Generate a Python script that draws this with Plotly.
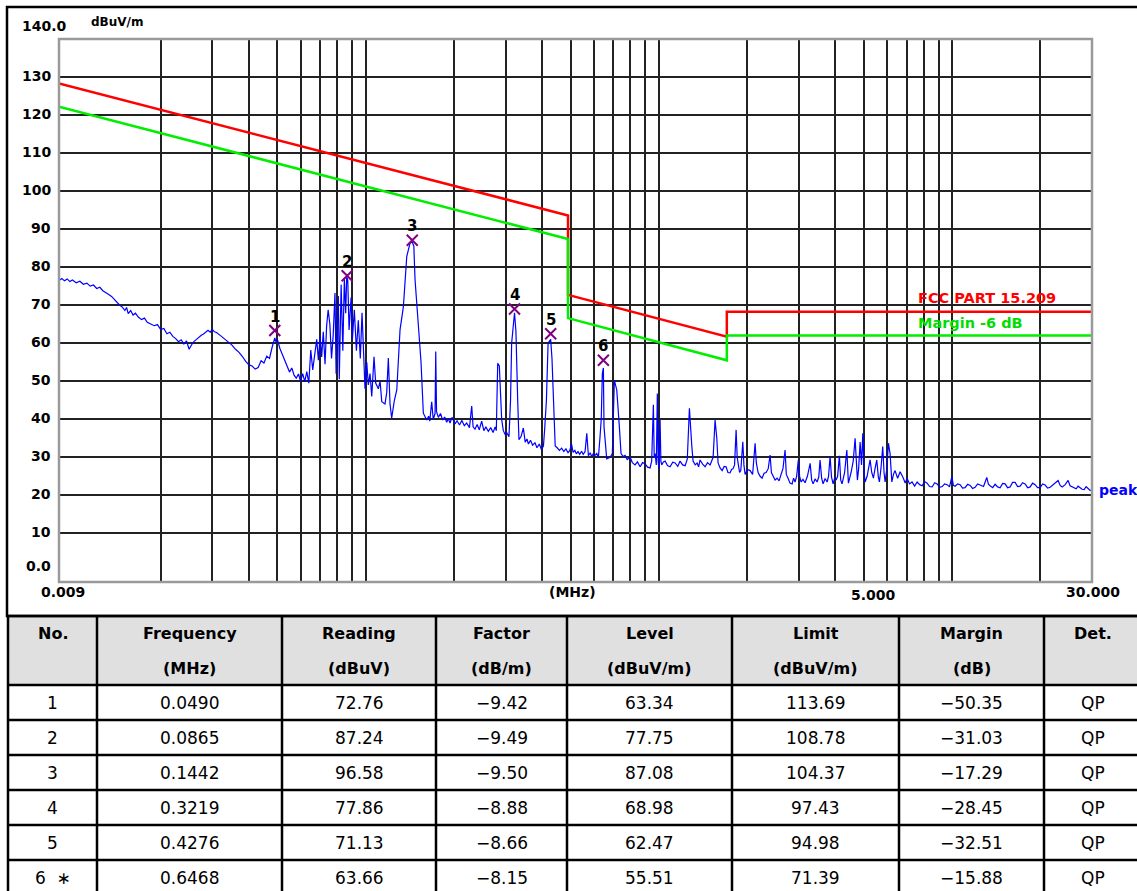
import numpy as np
import plotly.graph_objects as go

# ---------------- data ----------------
peak_freq_mhz = [
    0.0090, 0.0092, 0.0094, 0.0096, 0.0098, 0.0100, 0.0103, 0.0106, 0.0109, 0.0112,
    0.0115, 0.0118, 0.0121, 0.0124, 0.0127, 0.0130, 0.0133, 0.0136, 0.0139, 0.0142,
    0.0145, 0.0148, 0.0151, 0.0153, 0.0155, 0.0158, 0.0161, 0.0164, 0.0168, 0.0172,
    0.0176, 0.0180, 0.0185, 0.0190, 0.0195, 0.0200, 0.0205, 0.0210, 0.0215, 0.0220,
    0.0225, 0.0230, 0.0235, 0.0240, 0.0245, 0.0250, 0.0255, 0.0260, 0.0265, 0.0270,
    0.0275, 0.0280, 0.0285, 0.0290, 0.0295, 0.0300, 0.0305, 0.0310, 0.0320, 0.0330,
    0.0340, 0.0350, 0.0360, 0.0370, 0.0380, 0.0390, 0.0400, 0.0410, 0.0420, 0.0430,
    0.0440, 0.0450, 0.0460, 0.0470, 0.0480, 0.0490, 0.0495, 0.0500, 0.0510, 0.0520,
    0.0530, 0.0540, 0.0550, 0.0560, 0.0570, 0.0580, 0.0590, 0.0600, 0.0610, 0.0620,
    0.0630, 0.0640, 0.0650, 0.0660, 0.0672, 0.0681, 0.0690, 0.0699, 0.0708, 0.0717,
    0.0727, 0.0736, 0.0745, 0.0755, 0.0765, 0.0775, 0.0786, 0.0793, 0.0800, 0.0807,
    0.0813, 0.0825, 0.0836, 0.0846, 0.0855, 0.0862, 0.0869, 0.0878, 0.0892, 0.0901,
    0.0915, 0.0930, 0.0944, 0.0959, 0.0972, 0.0985, 0.0995, 0.1009, 0.1021, 0.1035,
    0.1049, 0.1068, 0.1082, 0.1105, 0.1120, 0.1135, 0.1164, 0.1180, 0.1195, 0.1211,
    0.1227, 0.1253, 0.1277, 0.1310, 0.1345, 0.1381, 0.1417, 0.1442, 0.1460, 0.1474,
    0.1512, 0.1545, 0.1573, 0.1615, 0.1640, 0.1655, 0.1680, 0.1700, 0.1725, 0.1734,
    0.1745, 0.1770, 0.1800, 0.1830, 0.1860, 0.1890, 0.1914, 0.1940, 0.1970, 0.2018,
    0.2050, 0.2090, 0.2130, 0.2170, 0.2210, 0.2260, 0.2300, 0.2325, 0.2360, 0.2400,
    0.2440, 0.2487, 0.2530, 0.2570, 0.2621, 0.2670, 0.2720, 0.2764, 0.2790, 0.2821,
    0.2857, 0.2880, 0.2910, 0.2948, 0.2990, 0.3027, 0.3082, 0.3120, 0.3147, 0.3219,
    0.3255, 0.3300, 0.3333, 0.3390, 0.3450, 0.3500, 0.3550, 0.3590, 0.3650, 0.3710,
    0.3780, 0.3840, 0.3910, 0.3980, 0.4040, 0.4080, 0.4135, 0.4190, 0.4276, 0.4320,
    0.4365, 0.4430, 0.4500, 0.4580, 0.4660, 0.4740, 0.4820, 0.4900, 0.4970, 0.5035,
    0.5100, 0.5170, 0.5230, 0.5300, 0.5370, 0.5450, 0.5520, 0.5602, 0.5677, 0.5750,
    0.5830, 0.5900, 0.5980, 0.6060, 0.6140, 0.6220, 0.6300, 0.6360, 0.6415, 0.6468,
    0.6500, 0.6640, 0.6820, 0.6940, 0.7050, 0.7185, 0.7333, 0.7430, 0.7550, 0.7670,
    0.7800, 0.7980, 0.8120, 0.8295, 0.8450, 0.8630, 0.8800, 0.8970, 0.9150, 0.9330,
    0.9450, 0.9577, 0.9640, 0.9710, 0.9800, 0.9880, 0.9940, 1.0000, 1.0095, 1.0160,
    1.023, 1.036, 1.050, 1.070, 1.092, 1.115, 1.136, 1.160, 1.181, 1.205,
    1.229, 1.250, 1.271, 1.283, 1.295, 1.308, 1.330, 1.350, 1.366, 1.382,
    1.410, 1.438, 1.465, 1.495, 1.531, 1.555, 1.576, 1.592, 1.617, 1.643,
    1.670, 1.695, 1.720, 1.749, 1.770, 1.791, 1.812, 1.834, 1.850, 1.867,
    1.885, 1.903, 1.918, 1.933, 1.950, 1.968, 2.007, 2.047, 2.088, 2.110,
    2.129, 2.150, 2.180, 2.215, 2.249, 2.285, 2.321, 2.360, 2.395, 2.420,
    2.453, 2.490, 2.530, 2.570, 2.611, 2.650, 2.694, 2.720, 2.758, 2.800,
    2.847, 2.880, 2.914, 2.950, 2.990, 3.020, 3.055, 3.100, 3.152, 3.210,
    3.280, 3.320, 3.357, 3.410, 3.464, 3.510, 3.546, 3.590, 3.631, 3.690,
    3.747, 3.790, 3.836, 3.880, 3.928, 3.975, 4.021, 4.070, 4.127, 4.170,
    4.215, 4.300, 4.375, 4.430, 4.524, 4.600, 4.669, 4.710, 4.754, 4.800,
    4.856, 4.910, 4.960, 5.010, 5.050, 5.130, 5.190, 5.252, 5.320, 5.390,
    5.460, 5.536, 5.600, 5.650, 5.720, 5.800, 5.860, 5.910, 5.990, 6.065,
    6.145, 6.230, 6.310, 6.390, 6.520, 6.650, 6.820, 6.920, 7.020, 7.160,
    7.300, 7.450, 7.600, 7.750, 7.900, 8.060, 8.220, 8.380, 8.550, 8.720,
    8.890, 9.070, 9.250, 9.430, 9.620, 9.800, 9.980, 10.10, 10.24, 10.45,
    10.65, 10.86, 11.07, 11.30, 11.52, 11.75, 11.98, 12.22, 12.46, 12.80,
    13.13, 13.30, 13.48, 13.75, 14.02, 14.30, 14.58, 14.87, 15.16, 15.46,
    15.77, 16.08, 16.40, 16.73, 17.06, 17.40, 17.74, 18.10, 18.46, 18.82,
    19.19, 19.57, 19.96, 20.36, 20.76, 21.18, 21.60, 22.30, 22.99, 23.36,
    23.73, 24.30, 24.87, 25.26, 25.66, 26.07, 26.49, 26.90, 27.33, 27.76,
    28.20, 28.65, 29.10, 29.55, 30.00,
]
peak_level_dbuv = [
    76.5, 77.0, 76.4, 76.9, 76.2, 76.6, 75.9, 76.3, 75.5, 75.8,
    75.0, 75.3, 74.4, 74.7, 73.8, 73.4, 72.8, 72.3, 71.5, 70.9,
    70.0, 69.5, 68.6, 69.4, 67.8, 68.6, 67.4, 67.9, 66.8, 66.2,
    66.6, 65.5, 65.1, 64.6, 64.9, 63.6, 63.9, 62.5, 62.9, 61.8,
    61.2, 60.4, 60.9, 59.8, 60.6, 58.4, 59.6, 60.5, 61.0, 61.6,
    62.1, 62.4, 63.0, 63.4, 62.9, 63.6, 63.0, 62.8, 62.0, 61.2,
    60.4, 59.5, 58.4, 57.6, 56.5, 55.2, 54.3, 54.0, 53.2, 53.6,
    55.4, 54.8, 56.6, 56.0, 59.0, 61.4, 60.2, 61.0, 58.6, 57.0,
    55.2, 54.0, 52.4, 53.5, 51.6, 50.8, 51.9, 50.0, 52.0, 49.9,
    52.5, 49.5, 58.2, 53.0, 58.0, 61.0, 55.5, 61.8, 56.4, 63.0,
    54.5, 64.5, 68.8, 65.0, 56.0, 62.0, 73.2, 52.0, 66.0, 72.4,
    50.5, 75.4, 58.0, 77.0, 67.9, 77.5, 76.5, 63.5, 72.0, 60.9,
    68.8, 58.0, 66.0, 56.0, 68.0, 55.0, 48.0, 55.0, 49.0, 52.0,
    46.0, 56.4, 49.5, 48.0, 50.0, 44.6, 44.0, 47.0, 56.1, 44.0,
    40.3, 45.0, 47.7, 63.5, 69.6, 82.8, 86.3, 86.6, 85.5, 76.7,
    63.5, 55.0, 41.6, 39.8, 40.8, 39.5, 44.6, 40.0, 41.5, 57.8,
    42.0, 40.5, 41.5, 39.8, 40.6, 39.2, 40.2, 39.0, 40.5, 38.8,
    39.6, 38.5, 39.7, 38.3, 39.0, 37.8, 43.5, 38.0, 37.4, 38.6,
    37.2, 39.5, 37.0, 38.0, 36.8, 37.8, 36.5, 38.0, 37.0, 54.7,
    54.0, 48.0, 40.0, 37.0, 36.0, 36.5, 35.4, 45.0, 60.0, 68.0,
    63.0, 45.0, 34.6, 35.5, 37.7, 34.0, 34.8, 33.5, 34.5, 33.2,
    33.8, 32.5, 33.5, 32.0, 33.0, 37.5, 45.0, 60.0, 61.0, 56.0,
    45.0, 33.0, 32.5, 31.8, 32.4, 31.5, 32.2, 31.2, 31.8, 33.5,
    31.3, 31.8, 30.9, 31.5, 30.8, 31.6, 30.8, 31.5, 36.3, 30.4,
    31.2, 30.2, 31.0, 30.5, 31.0, 29.9, 35.4, 40.0, 52.0, 53.5,
    38.0, 29.6, 30.0, 31.0, 50.3, 47.7, 38.0, 31.0, 30.2, 30.5,
    29.4, 30.0, 28.6, 28.0, 28.8, 27.5, 28.6, 28.3, 27.4, 27.2,
    29.0, 43.8, 30.0, 31.0, 28.0, 46.8, 29.0, 27.0, 39.8, 29.0,
    28.0, 28.8, 29.0, 27.8, 27.5, 28.7, 28.5, 27.6, 29.0, 28.0,
    27.8, 29.5, 42.9, 37.0, 33.0, 29.0, 28.0, 28.5, 27.5, 29.3,
    28.2, 27.5, 28.6, 28.0, 30.0, 39.8, 35.0, 28.5, 27.2, 26.5,
    27.6, 27.5, 26.0, 25.9, 26.8, 27.0, 28.0, 37.2, 30.0, 28.0,
    26.0, 26.5, 30.0, 34.1, 28.0, 25.5, 26.8, 26.5, 25.5, 29.0,
    33.7, 28.5, 26.0, 25.0, 24.5, 25.8, 26.0, 27.0, 30.6, 26.0,
    25.0, 24.0, 24.5, 23.8, 25.5, 27.0, 31.9, 25.5, 24.5, 23.2,
    23.0, 24.5, 23.5, 25.0, 29.3, 25.0, 23.5, 24.2, 23.3, 25.0,
    28.4, 24.0, 23.0, 24.3, 23.5, 24.8, 29.3, 24.5, 23.0, 24.4,
    23.5, 25.0, 30.2, 24.8, 23.0, 24.5, 24.0, 25.0, 30.4, 24.0,
    23.0, 26.0, 31.9, 23.2, 26.0, 29.0, 35.0, 28.0, 24.0, 27.0,
    34.0, 28.0, 36.3, 26.0, 23.5, 25.0, 27.0, 29.3, 26.0, 24.5,
    27.0, 29.3, 25.0, 23.5, 27.0, 32.8, 26.0, 23.5, 27.0, 33.7,
    31.0, 23.5, 25.5, 26.5, 24.5, 26.2, 24.5, 23.2, 24.5, 23.0,
    23.5, 22.4, 23.5, 22.8, 22.5, 23.6, 23.2, 22.3, 22.2, 23.3,
    23.0, 22.1, 22.3, 23.0, 22.8, 22.2, 24.9, 22.6, 22.4, 23.0,
    22.8, 21.9, 22.0, 22.9, 22.6, 21.8, 22.1, 23.0, 22.7, 22.3,
    24.7, 22.9, 22.5, 22.0, 22.9, 22.2, 22.0, 23.1, 23.0, 22.0,
    22.2, 23.4, 23.4, 22.3, 22.4, 23.3, 23.0, 22.0, 22.2, 23.2,
    22.8, 22.0, 22.0, 23.0, 22.7, 21.9, 22.1, 23.0, 23.9, 22.6,
    22.2, 22.8, 23.9, 22.5, 22.2, 22.0, 21.7, 22.4, 22.0, 21.6,
    21.5, 22.3, 21.8, 21.3, 21.4,
]

limit_freq_mhz = [0.009, 0.49, 0.49, 1.705, 1.705, 30.0]
limit_level = [128.3, 93.6, 72.7, 61.7, 68.3, 68.3]      # FCC PART 15.209
margin_level = [122.2, 87.4, 66.6, 55.5, 62.0, 62.0]     # Margin -6 dB

grid_freqs = [0.02, 0.03, 0.04, 0.05, 0.06, 0.07, 0.08, 0.09,
              0.1, 0.2, 0.3, 0.4, 0.5, 0.6, 0.7, 0.8, 0.9,
              1, 2, 3, 4, 5, 6, 7, 8, 9, 10, 20]
ytick_vals = [10, 20, 30, 40, 50, 60, 70, 80, 90, 100, 110, 120, 130]
ytick_text = ["10", "20", "30", "40", "50", "60", "70", "80", "90", "100", "110", "120", "130"]

tbl_no = ["1", "2", "3", "4", "5", "6\u00a0\u00a0\u2217"]
tbl_freq = [0.0490, 0.0865, 0.1442, 0.3219, 0.4276, 0.6468]
tbl_reading = [72.76, 87.24, 96.58, 77.86, 71.13, 63.66]
tbl_factor = [-9.42, -9.49, -9.50, -8.88, -8.66, -8.15]
tbl_level = [63.34, 77.75, 87.08, 68.98, 62.47, 55.51]
tbl_limit = [113.69, 108.78, 104.37, 97.43, 94.98, 71.39]
tbl_margin = [-50.35, -31.03, -17.29, -28.45, -32.51, -15.88]
tbl_det = ["QP", "QP", "QP", "QP", "QP", "QP"]
hdr_line1 = ["No.", "Frequency", "Reading", "Factor", "Level", "Limit", "Margin", "Det."]
hdr_line2 = ["", "(MHz)", "(dBuV)", "(dB/m)", "(dBuV/m)", "(dBuV/m)", "(dB)", ""]
marker_labels = ["1", "2", "3", "4", "5", "6"]

# ---------------- layout helpers ----------------
W, H = 1137, 891
PL, PR, PT, PB = 59, 1092, 39, 582   # plot area in pixels


def fx(x):
    return x / W


def fy(y):
    return 1 - y / H


FONT = "DejaVu Sans"
fig = go.Figure()

fig.add_trace(go.Scatter(x=peak_freq_mhz, y=peak_level_dbuv, mode="lines",
                         line=dict(color="#0000ff", width=1.2), hoverinfo="skip"))
fig.add_trace(go.Scatter(x=limit_freq_mhz, y=limit_level, mode="lines",
                         line=dict(color="#ff0000", width=2.5)))
fig.add_trace(go.Scatter(x=limit_freq_mhz, y=margin_level, mode="lines",
                         line=dict(color="#00ee00", width=2.5)))
fig.add_trace(go.Scatter(x=tbl_freq, y=tbl_level, mode="markers",
                         marker=dict(symbol="x-thin", size=11, color="#800080",
                                     line=dict(width=2, color="#800080"))))

ann = []


def text(x, y, t, size=14, color="black", xanchor="center", bold=True, family=FONT,
         xref="paper", yref="paper", yshift=0, xshift=0):
    ann.append(dict(xref=xref, yref=yref, x=x, y=y,
                    text=(f"<b>{t}</b>" if bold else t), showarrow=False,
                    font=dict(family=family, size=size, color=color),
                    xanchor=xanchor, yanchor="middle", yshift=yshift, xshift=xshift))


# y tick labels
for v, t in zip(ytick_vals, ytick_text):
    text(fx(53), v, t, xanchor="right", yref="y", yshift=1)
text(fx(20), 140, "140.0", xanchor="left", yref="y", yshift=13)
text(fx(53), 0, "0.0", xanchor="right", yref="y", yshift=5)
text(fx(117), fy(22), "dBuV/m", size=12)

# x labels
text(np.log10(0.009), fy(592), "0.009", xref="x", xshift=4)
text(fx(572), fy(592), "(MHz)")
text(np.log10(5), fy(595), "5.000", xref="x", xshift=10)
text(np.log10(30), fy(592), "30.000", xref="x", xshift=1)

# legend-like labels
text(fx(916), fy(298), "FCC PART 15.209", size=14.5, color="#ff0000", xanchor="left")
text(fx(916), fy(323), "Margin -6 dB", size=14.5, color="#00dd00", xanchor="left")
text(fx(1097), fy(490), "peak", size=14, color="#0000ff", xanchor="left")

# marker numbers
for f, lv, lab in zip(tbl_freq, tbl_level, marker_labels):
    text(np.log10(f), lv, lab, xref="x", yref="y", yshift=14, size=15)

# ---------------- table ----------------
col_edges = [8, 97, 282, 436, 567, 732, 899, 1044, 1141]
col_centers = [52.5, 189.5, 359, 501.5, 649.5, 815.5, 971.5, 1092.5]
row_lines = [616, 685, 720, 755, 790, 825, 860, 895]
hdr_y1, hdr_y2 = 633, 668
body_y = [702.5, 737.5, 772.5, 807.5, 842.5, 877.5]


def fmt(v, nd=2):
    return f"{v:.{nd}f}".replace("-", "\u2212")


for c, (h1, h2) in enumerate(zip(hdr_line1, hdr_line2)):
    text(fx(col_centers[c]), fy(hdr_y1), h1, size=16)
    if h2:
        text(fx(col_centers[c]), fy(hdr_y2), h2, size=16)

columns = [tbl_no,
           [fmt(v, 4) for v in tbl_freq],
           [fmt(v) for v in tbl_reading],
           [fmt(v) for v in tbl_factor],
           [fmt(v) for v in tbl_level],
           [fmt(v) for v in tbl_limit],
           [fmt(v) for v in tbl_margin],
           tbl_det]
for c, col in enumerate(columns):
    for r, val in enumerate(col):
        text(fx(col_centers[c]), fy(body_y[r]), val, size=17, bold=False)

shapes = []
# header background
shapes.append(dict(type="rect", xref="paper", yref="paper", layer="below",
                   x0=fx(8), x1=fx(1141), y0=fy(685), y1=fy(616),
                   fillcolor="#e0e0e0", line=dict(width=0)))
# outer frame of chart
shapes.append(dict(type="rect", xref="paper", yref="paper",
                   x0=fx(7), x1=fx(1141), y0=fy(616), y1=fy(7),
                   line=dict(color="black", width=2.5)))
# plot border
shapes.append(dict(type="rect", xref="paper", yref="paper",
                   x0=fx(PL), x1=fx(PR), y0=fy(PB), y1=fy(PT),
                   line=dict(color="#9a9a9a", width=2.5)))
for yl in row_lines:
    shapes.append(dict(type="line", xref="paper", yref="paper",
                       x0=fx(8), x1=fx(1141), y0=fy(yl), y1=fy(yl),
                       line=dict(color="black", width=2.5)))
for xl in col_edges:
    shapes.append(dict(type="line", xref="paper", yref="paper",
                       x0=fx(xl), x1=fx(xl), y0=fy(616), y1=fy(895),
                       line=dict(color="black", width=2.5)))

fig.update_layout(
    width=W, height=H,
    margin=dict(l=0, r=0, t=0, b=0),
    paper_bgcolor="white", plot_bgcolor="white",
    showlegend=False,
    xaxis=dict(type="log", domain=[fx(PL), fx(PR)],
               range=[np.log10(0.009), np.log10(30)],
               tickvals=grid_freqs, showticklabels=False, ticks="",
               showgrid=True, gridcolor="#222222", gridwidth=1.5,
               zeroline=False, showline=False, automargin=False, fixedrange=True),
    yaxis=dict(domain=[fy(PB), fy(PT)], range=[-2.8, 140],
               tickvals=ytick_vals, showticklabels=False, ticks="",
               showgrid=True, gridcolor="#222222", gridwidth=1.5,
               zeroline=False, showline=False, automargin=False, fixedrange=True),
    annotations=ann,
    shapes=shapes,
)

assert len(peak_freq_mhz) == len(peak_level_dbuv)
fig.write_html("out.html", config={"displayModeBar": False},
               post_script="document.body.style.margin='0';document.body.style.overflow='hidden';")
